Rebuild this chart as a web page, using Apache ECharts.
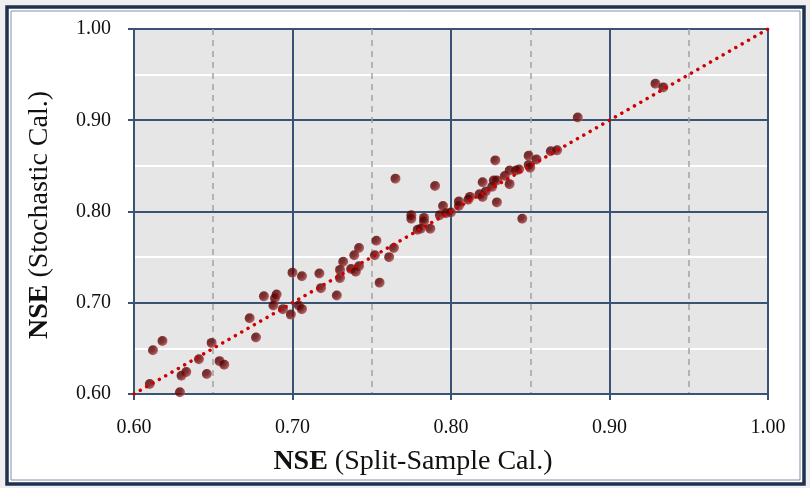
<!DOCTYPE html>
<html>
<head>
<meta charset="utf-8">
<script src="https://cdn.jsdelivr.net/npm/echarts@6/dist/echarts.min.js"></script>
<style>
html,body{margin:0;padding:0;background:#f0eeee;}
#c{width:810px;height:488px;}
</style>
</head>
<body>
<div id="c"></div>
<script>
// NSE split-sample calibration (x) vs stochastic calibration (y)
var splitSample = [
 0.700,0.706,0.682,0.690,0.689,0.688,0.694,0.699,0.704,0.706,
 0.673,0.677,0.618,0.612,0.649,0.641,0.654,0.657,0.633,0.630,
 0.646,0.610,0.629,
 0.717,0.718,0.728,0.730,0.732,0.730,0.737,0.742,0.740,0.739,
 0.742,0.753,0.752,0.764,0.761,0.755,0.765,0.790,0.795,0.775,
 0.775,0.783,0.783,0.779,0.781,0.787,0.793,0.797,0.800,
 0.805,0.805,0.811,0.812,0.818,0.820,0.822,0.820,0.827,0.829,
 0.826,0.834,0.837,0.837,0.841,0.843,0.849,0.850,0.849,0.854,
 0.863,0.867,0.828,0.829,0.845,
 0.880,0.929,0.934
];
var stochastic = [
 0.733,0.729,0.707,0.709,0.705,0.697,0.693,0.687,0.697,0.693,
 0.683,0.662,0.658,0.648,0.656,0.638,0.636,0.632,0.624,0.620,
 0.622,0.611,0.602,
 0.732,0.716,0.708,0.727,0.745,0.736,0.737,0.740,0.734,0.752,
 0.760,0.768,0.752,0.760,0.750,0.722,0.836,0.828,0.806,0.796,
 0.792,0.793,0.789,0.780,0.781,0.781,0.796,0.798,0.799,
 0.811,0.806,0.813,0.816,0.819,0.816,0.822,0.832,0.834,0.834,
 0.827,0.839,0.830,0.845,0.845,0.846,0.851,0.848,0.861,0.857,
 0.866,0.867,0.856,0.810,0.792,
 0.903,0.940,0.936
];
var lineX = [0.60, 1.00];
var lineY = [0.60, 1.00];
var xTicks = [0.60, 0.70, 0.80, 0.90, 1.00];
var yTicks = [0.60, 0.70, 0.80, 0.90, 1.00];

var scatterData = splitSample.map(function(v,i){return [v, stochastic[i]];});
var lineData = lineX.map(function(v,i){return [v, lineY[i]];});

var chart = echarts.init(document.getElementById('c'), null, {renderer:'canvas'});
var axisBlue = '#3a5374';
var font = 'Liberation Serif';
var option = {
  backgroundColor: '#f0eeee',
  animation: false,
  graphic: [
    {type:'rect', z:-10, shape:{x:7,y:7,width:797,height:477}, style:{fill:'#ffffff', stroke:'#1c3250', lineWidth:3.5}},
    {type:'rect', z:-9, shape:{x:11,y:11,width:789,height:469}, style:{fill:'none', stroke:'#8391a6', lineWidth:1}},
    {type:'text', z:10, x:413, y:462, style:{
      text:'{b|NSE} (Split-Sample Cal.)', align:'center', verticalAlign:'middle',
      font:'28px "Liberation Serif"', fill:'#111',
      rich:{b:{fontWeight:'bold', fontSize:28, fontFamily:font, fill:'#111'}}
    }},
    {type:'text', z:10, x:40, y:215, rotation:Math.PI/2, style:{
      text:'{b|NSE} (Stochastic Cal.)', align:'center', verticalAlign:'middle',
      font:'28px "Liberation Serif"', fill:'#111',
      rich:{b:{fontWeight:'bold', fontSize:28, fontFamily:font, fill:'#111'}}
    }}
  ],
  grid: {left:134, top:29, width:634, height:365, show:true, backgroundColor:'#e6e6e6', borderColor:axisBlue, borderWidth:2},
  xAxis: {
    type:'value', min:0.6, max:1.0, interval:0.1,
    axisLine:{show:true, lineStyle:{color:axisBlue, width:2}},
    axisTick:{show:true, length:6, lineStyle:{color:axisBlue, width:2}},
    axisLabel:{margin:24, fontFamily:font, fontSize:20, color:'#111', formatter:function(v){return v.toFixed(2);}},
    splitLine:{show:true, lineStyle:{color:axisBlue, width:2}},
    minorTick:{show:false, splitNumber:2},
    minorSplitLine:{show:true, lineStyle:{color:'#a3a3a3', width:1.5, type:[6,5]}}
  },
  yAxis: {
    type:'value', min:0.6, max:1.0, interval:0.1,
    axisLine:{show:true, lineStyle:{color:axisBlue, width:2}},
    axisTick:{show:true, length:6, lineStyle:{color:axisBlue, width:2}},
    axisLabel:{margin:23, fontFamily:font, fontSize:20, color:'#111', formatter:function(v){return v.toFixed(2);}},
    splitLine:{show:true, lineStyle:{color:axisBlue, width:2}},
    minorTick:{show:false, splitNumber:2},
    minorSplitLine:{show:true, lineStyle:{color:'#ffffff', width:2}}
  },
  series: [
    {
      type:'scatter', data:scatterData, symbol:'circle', symbolSize:10, z:3,
      itemStyle:{
        color:{type:'radial', x:0.3, y:0.3, r:0.85, colorStops:[
          {offset:0, color:'#480000'},{offset:0.45, color:'#6a0606'},{offset:0.78, color:'#983434'},{offset:1, color:'#d9a8a8'}]},
        borderWidth:0
      }
    },
    {
      type:'line', data:lineData, symbol:'none', z:4,
      lineStyle:{color:'#d00000', width:3.5, type:[0.01,7.3], cap:'round'}
    }
  ]
};
chart.setOption(option);
</script>
</body>
</html>
